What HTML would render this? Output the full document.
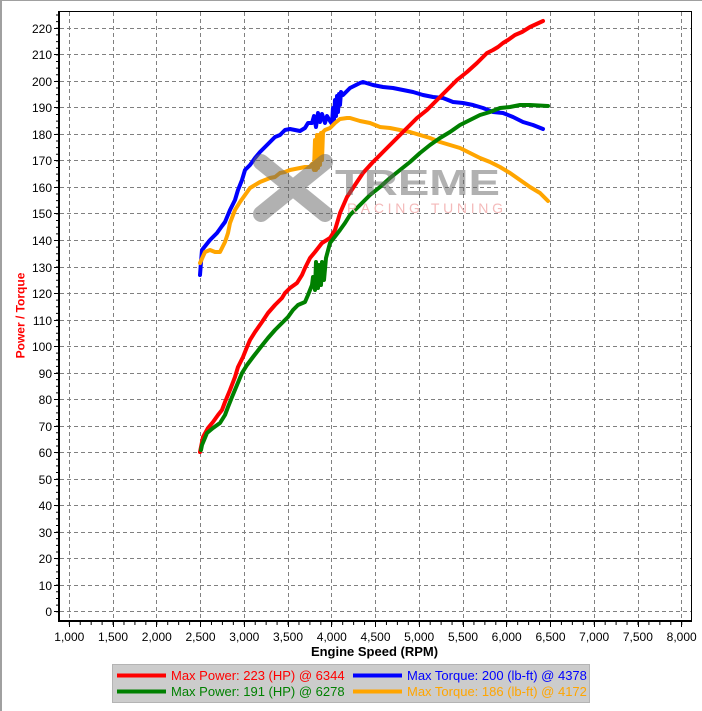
<!DOCTYPE html>
<html><head><meta charset="utf-8"><style>
html,body{margin:0;padding:0;background:#fff;}
svg{display:block;}
text{font-family:"Liberation Sans",Arial,sans-serif;}
</style></head><body>
<svg width="702" height="711" viewBox="0 0 702 711" xmlns="http://www.w3.org/2000/svg">
<rect x="0" y="0" width="702" height="711" fill="#fff"/>
<line x1="0" y1="0.5" x2="702" y2="0.5" stroke="#a0a0a0" stroke-width="1"/>
<line x1="1" y1="0" x2="1" y2="711" stroke="#a0a0a0" stroke-width="2"/>

<!-- grid -->
<g stroke="#808080" stroke-width="1" stroke-dasharray="4,3" fill="none">
<path d="M69.5 12V620M113.5 12V620M156.5 12V620M200.5 12V620M244.5 12V620M288.5 12V620M331.5 12V620M375.5 12V620M419.5 12V620M463.5 12V620M506.5 12V620M550.5 12V620M594.5 12V620M638.5 12V620M681.5 12V620"/>
<path d="M60 611.5H691M60 585.5H691M60 558.5H691M60 532.5H691M60 505.5H691M60 479.5H691M60 452.5H691M60 426.5H691M60 399.5H691M60 373.5H691M60 346.5H691M60 320.5H691M60 293.5H691M60 267.5H691M60 240.5H691M60 213.5H691M60 187.5H691M60 160.5H691M60 134.5H691M60 107.5H691M60 81.5H691M60 54.5H691M60 28.5H691"/>
</g>

<!-- curves -->
<g fill="none" stroke-width="4" stroke-linejoin="round" stroke-linecap="round">
<polyline stroke="#0000ff" points="200,275 201,262 202,250 206,245 210,240 217,233 222,226 225,222 230,210 235,200 238,190 242,180 245,170 250,165 255,158 260,152 265,147 270,142 275,137 280,135 285,130 290,129 295,130 300,131 305,128 308,123 312,123 314,116 316,127 318,113 320,122 322,114 325,123 327,116 330,121 332,124 333,108 334,120 335,100 336,116 337,96 338,112 339,94 340,105 341,92 343,95 350,88 360,83 363,82 373,85 383,87 393,88 403,90 413,92 423,95 433,97 443,98 453,102 463,103 473,105 483,108 493,112 503,113 513,117 523,122 533,125 543,129"/>
<polyline stroke="#ffa500" points="200,263 205,252 210,250 215,252 220,252 222,248 225,242 228,233 230,223 235,210 240,202 245,195 250,188 255,185 260,182 265,180 270,178 275,177 280,173 285,172 290,170 295,169 300,168 305,167 310,167 312,164 314,170 315,140 316,170 317,135 318,168 319,135 320,165 321,133 322,160 323,132 325,130 330,128 335,123 340,119 347,118 350,118 360,121 370,123 380,127 390,128 400,130 410,132 420,135 430,138 440,142 450,145 460,148 470,153 480,158 490,162 500,167 510,173 520,180 530,187 540,193 548,201"/>
<polyline stroke="#ff0000" points="200,452 203,437 208,428 213,422 218,415 222,410 225,402 230,390 235,377 238,367 243,357 247,347 250,340 255,332 262,322 268,313 275,305 282,298 285,293 290,288 297,283 302,275 305,268 310,258 315,252 322,243 330,238 335,230 338,220 340,213 347,197 355,185 363,173 373,162 383,152 392,143 400,135 408,127 417,118 427,110 437,100 447,90 457,80 467,72 477,63 487,53 493,50 498,47 503,43 508,40 515,35 522,32 530,27 543,21"/>
<polyline stroke="#008000" points="201,450 202,445 207,433 213,428 220,423 225,415 228,407 232,397 237,385 242,373 247,365 253,357 260,348 268,338 275,330 282,323 288,317 293,310 298,305 305,302 308,295 312,285 313,277 315,290 316,262 318,288 319,265 321,285 322,262 324,280 326,258 330,243 340,230 345,223 350,215 360,205 370,195 380,187 390,178 400,170 410,162 420,153 430,145 440,138 450,132 460,125 470,120 480,115 490,112 500,108 510,107 520,105 530,105 548,106"/>
</g>

<!-- watermark -->
<g opacity="0.5">
<g stroke="#666" stroke-width="16" stroke-linecap="round">
<line x1="261" y1="162" x2="325" y2="214"/>
<line x1="325" y1="162" x2="261" y2="214"/>
</g>
<text x="335" y="195" font-size="36" font-weight="bold" fill="#666" textLength="165" lengthAdjust="spacingAndGlyphs">TREME</text>
</g>
<text x="347" y="213" font-size="14" fill="#f4baba" textLength="156" lengthAdjust="spacing">RACING TUNING</text>

<!-- frame -->
<line x1="59" y1="11.5" x2="692" y2="11.5" stroke="#000" stroke-width="1"/>
<line x1="691.5" y1="11" x2="691.5" y2="621" stroke="#000" stroke-width="1"/>
<line x1="59" y1="11" x2="59" y2="622" stroke="#000" stroke-width="2"/>
<line x1="58" y1="621" x2="692" y2="621" stroke="#000" stroke-width="2"/>

<!-- ticks -->
<line x1="57" y1="612.2" x2="57" y2="14" stroke="#000" stroke-width="2" stroke-dasharray="1 5.6295"/>
<path stroke="#000" stroke-width="1" d="M54 611.5H58M54 585.5H58M54 558.5H58M54 532.5H58M54 505.5H58M54 479.5H58M54 452.5H58M54 426.5H58M54 399.5H58M54 373.5H58M54 346.5H58M54 320.5H58M54 293.5H58M54 267.5H58M54 240.5H58M54 213.5H58M54 187.5H58M54 160.5H58M54 134.5H58M54 107.5H58M54 81.5H58M54 54.5H58M54 28.5H58"/>
<line x1="68.8" y1="623.5" x2="682.5" y2="623.5" stroke="#000" stroke-width="3" stroke-dasharray="1 9.936"/>
<path stroke="#000" stroke-width="1" d="M69.5 622V627M113.5 622V627M156.5 622V627M200.5 622V627M244.5 622V627M288.5 622V627M331.5 622V627M375.5 622V627M419.5 622V627M463.5 622V627M506.5 622V627M550.5 622V627M594.5 622V627M638.5 622V627M681.5 622V627"/>

<!-- y labels -->
<g font-size="12" fill="#000" text-anchor="end">
<text x="52" y="616">0</text><text x="52" y="590">10</text><text x="52" y="563">20</text><text x="52" y="537">30</text><text x="52" y="510">40</text><text x="52" y="484">50</text><text x="52" y="457">60</text><text x="52" y="431">70</text><text x="52" y="404">80</text><text x="52" y="378">90</text><text x="52" y="351">100</text><text x="52" y="325">110</text><text x="52" y="298">120</text><text x="52" y="272">130</text><text x="52" y="245">140</text><text x="52" y="218">150</text><text x="52" y="192">160</text><text x="52" y="165">170</text><text x="52" y="139">180</text><text x="52" y="112">190</text><text x="52" y="86">200</text><text x="52" y="59">210</text><text x="52" y="33">220</text>
</g>
<!-- x labels -->
<g font-size="12" fill="#000" text-anchor="middle">
<text x="69.3" y="641">1,000</text><text x="113" y="641">1,500</text><text x="156.8" y="641">2,000</text><text x="200.5" y="641">2,500</text><text x="244.3" y="641">3,000</text><text x="288" y="641">3,500</text><text x="331.8" y="641">4,000</text><text x="375.5" y="641">4,500</text><text x="419.2" y="641">5,000</text><text x="463" y="641">5,500</text><text x="506.7" y="641">6,000</text><text x="550.5" y="641">6,500</text><text x="594.2" y="641">7,000</text><text x="637.9" y="641">7,500</text><text x="681.7" y="641">8,000</text>
</g>

<text x="374.5" y="656" font-size="13" font-weight="bold" fill="#000" text-anchor="middle">Engine Speed (RPM)</text>
<text transform="translate(24.5,315.5) rotate(-90)" font-size="12" font-weight="bold" fill="#ff0000" text-anchor="middle">Power / Torque</text>

<!-- legend -->
<rect x="112.5" y="664.5" width="477" height="38" fill="#cccccc" stroke="#b4b4b4" stroke-width="1"/>
<line x1="117" y1="675.5" x2="166" y2="675.5" stroke="#ff0000" stroke-width="4"/>
<line x1="117" y1="691.5" x2="166" y2="691.5" stroke="#008000" stroke-width="4"/>
<line x1="353" y1="675.5" x2="402" y2="675.5" stroke="#0000ff" stroke-width="4"/>
<line x1="353" y1="691.5" x2="402" y2="691.5" stroke="#ffa500" stroke-width="4"/>
<g font-size="13">
<text x="171" y="680" fill="#ff0000">Max Power: 223 (HP) @ 6344</text>
<text x="171" y="696" fill="#008000">Max Power: 191 (HP) @ 6278</text>
<text x="407" y="680" fill="#0000ff">Max Torque: 200 (lb-ft) @ 4378</text>
<text x="407" y="696" fill="#ffa500">Max Torque: 186 (lb-ft) @ 4172</text>
</g>
</svg>
</body></html>
